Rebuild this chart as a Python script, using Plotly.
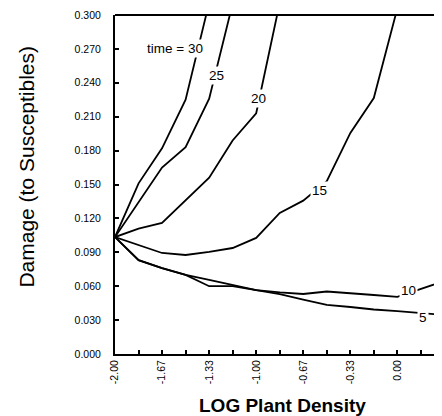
import plotly.graph_objects as go

# ---- data ----
x_30 = [-2.0, -1.833, -1.667, -1.5, -1.333]
y_30 = [0.1035, 0.151, 0.182, 0.225, 0.311]

x_25 = [-2.0, -1.667, -1.5, -1.333, -1.167]
y_25 = [0.1035, 0.165, 0.183, 0.226, 0.310]

x_20 = [-2.0, -1.833, -1.667, -1.333, -1.167, -1.0, -0.833]
y_20 = [0.1035, 0.111, 0.116, 0.156, 0.189, 0.213, 0.311]

x_15 = [-2.0, -1.667, -1.5, -1.333, -1.167, -1.0, -0.833, -0.667, -0.5, -0.333, -0.167, 0.0]
y_15 = [0.1035, 0.0894, 0.0876, 0.0903, 0.0938, 0.1027, 0.1248, 0.1357, 0.153, 0.1956, 0.2265, 0.306]

x_10 = [-2.0, -1.833, -1.667, -1.5, -1.333, -1.167, -1.0, -0.833, -0.667, -0.5, -0.333, -0.167, 0.0, 0.333]
y_10 = [0.1035, 0.083, 0.076, 0.070, 0.0655, 0.061, 0.0566, 0.0545, 0.0531, 0.0553, 0.054, 0.0522, 0.0505, 0.0646]

x_5 = [-2.0, -1.833, -1.667, -1.5, -1.333, -1.167, -1.0, -0.833, -0.667, -0.5, -0.333, -0.167, 0.0, 0.167, 0.333]
y_5 = [0.1035, 0.083, 0.076, 0.070, 0.0600, 0.0600, 0.0566, 0.053, 0.0482, 0.0434, 0.0416, 0.0394, 0.038, 0.0363, 0.0345]

series = [(x_30, y_30), (x_25, y_25), (x_20, y_20), (x_15, y_15), (x_10, y_10), (x_5, y_5)]

x_tickvals = [-2 + i / 6 for i in range(15)]
x_ticklabels = ["-2.00", "", "-1.67", "", "-1.33", "", "-1.00", "", "-0.67", "", "-0.33", "", "0.00", "", "0.33"]
y_tickvals = [i * 0.03 for i in range(11)]

curve_labels = ["time = 30", "25", "20", "15", "10", "5"]
label_x = [-1.363, -1.280, -0.987, -0.555, 0.082, 0.181]
label_y = [0.2708, 0.2469, 0.2257, 0.1451, 0.0560, 0.0327]
label_anchor = ["right", "center", "center", "center", "center", "center"]

FONT = "Liberation Sans, Arial, sans-serif"

fig = go.Figure()
for xs, ys in series:
    fig.add_trace(go.Scatter(x=xs, y=ys, mode="lines",
                             line=dict(color="black", width=1.8),
                             showlegend=False, hoverinfo="skip"))

for t, lx, ly, anc in zip(curve_labels, label_x, label_y, label_anchor):
    fig.add_annotation(x=lx, y=ly, xref="x", yref="y", text=t, showarrow=False,
                       xanchor=anc, yanchor="middle", bgcolor="white", borderpad=1,
                       font=dict(family=FONT, size=13.5, color="black"))

# axis titles
fig.add_annotation(xref="paper", yref="paper", x=-0.272, y=0.553,
                   text="Damage (to Susceptibles)", textangle=-90, showarrow=False,
                   xanchor="center", yanchor="middle",
                   font=dict(family=FONT, size=21, color="black"))
fig.add_annotation(xref="paper", yref="paper", x=0.511, y=-0.153,
                   text="<b>LOG Plant Density</b>", showarrow=False,
                   xanchor="center", yanchor="middle",
                   font=dict(family=FONT, size=19, color="black"))
# partially visible last tick label at the right edge
fig.add_annotation(xref="paper", yref="paper", x=1.006, y=-0.027,
                   text="0.33", textangle=-90, showarrow=False,
                   xanchor="center", yanchor="top",
                   font=dict(family=FONT, size=10.5, color="black"))

# top border
fig.add_shape(type="line", xref="paper", yref="paper", x0=0, x1=1, y0=1, y1=1,
              line=dict(color="black", width=2))

# the page body adds an 8px offset; size the figure so the plot lands where the reference has it
fig.update_layout(
    width=434, height=408,
    margin=dict(l=107, r=0, t=7, b=62),
    paper_bgcolor="white", plot_bgcolor="white",
    font=dict(family=FONT, color="black"),
)
fig.update_xaxes(range=[-2.0, 0.316], tickmode="array", tickvals=x_tickvals,
                 ticktext=x_ticklabels, tickangle=-90, ticks="inside", ticklen=4,
                 tickwidth=1.5, tickcolor="black", showline=True, linewidth=2,
                 linecolor="black", showgrid=False, zeroline=False,
                 tickfont=dict(family=FONT, size=10.5, color="black"))
fig.update_yaxes(range=[0, 0.3], tickmode="array", tickvals=y_tickvals,
                 ticktext=[f"{v:.3f}" for v in y_tickvals], ticks="inside",
                 ticklen=4, tickwidth=1.5, tickcolor="black", showline=True,
                 linewidth=2, linecolor="black", showgrid=False, zeroline=False,
                 ticklabelstandoff=10,
                 tickfont=dict(family=FONT, size=10.5, color="black"))

fig.write_html("out.html")
